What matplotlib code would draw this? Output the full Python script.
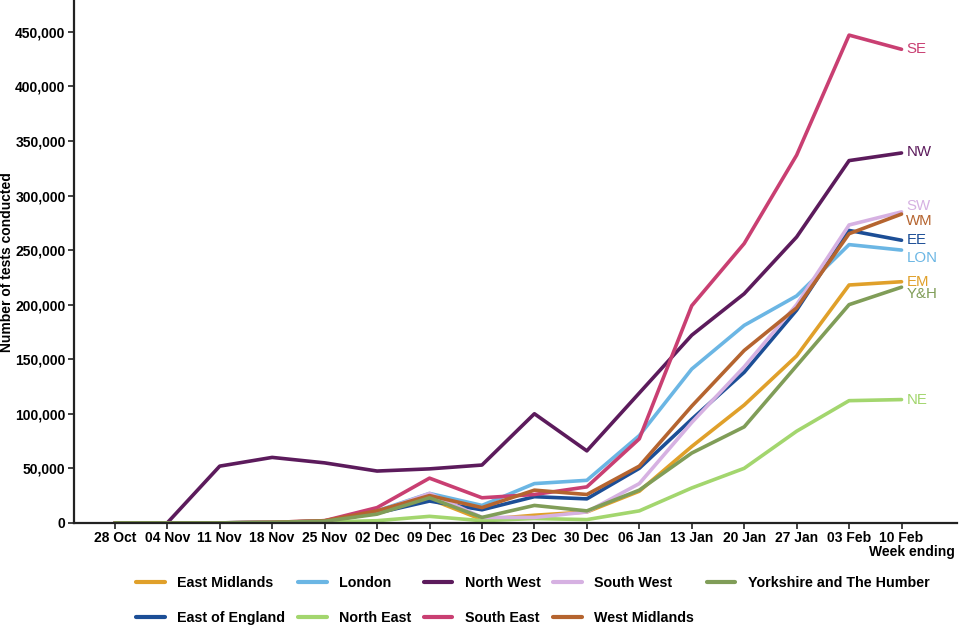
import matplotlib
matplotlib.use('Agg')
import matplotlib.pyplot as plt
from matplotlib.ticker import FuncFormatter

plt.rcParams['font.family'] = ['Liberation Sans', 'DejaVu Sans']

weeks = ['28 Oct', '04 Nov', '11 Nov', '18 Nov', '25 Nov', '02 Dec', '09 Dec', '16 Dec',
         '23 Dec', '30 Dec', '06 Jan', '13 Jan', '20 Jan', '27 Jan', '03 Feb', '10 Feb']

regions = ['East Midlands', 'East of England', 'London', 'North East', 'North West',
           'South East', 'South West', 'West Midlands', 'Yorkshire and The Humber']
short = ['EM', 'EE', 'LON', 'NE', 'NW', 'SE', 'SW', 'WM', 'Y&H']

east_midlands = [0, 0, 0, 500, 1500, 9000, 22000, 3000, 7000, 10000, 29000, 70000, 108000, 153000, 218000, 221000]
east_of_england = [0, 0, 0, 500, 1500, 9000, 20000, 12000, 24000, 22000, 50000, 95000, 138000, 195000, 268000, 259000]
london = [0, 0, 0, 500, 1500, 11000, 27000, 16000, 36000, 39000, 80000, 141000, 181000, 208000, 255000, 250000]
north_east = [0, 0, 0, 300, 800, 2000, 6000, 2000, 4000, 3000, 11000, 32000, 50000, 84000, 112000, 113000]
north_west = [0, 0, 52000, 60000, 55000, 47500, 49500, 53000, 100000, 66000, 119000, 172000, 210000, 262000, 332000, 339000]
south_east = [0, 0, 0, 500, 2000, 14000, 41000, 23000, 26000, 33000, 77000, 199000, 256000, 337000, 447000, 434000]
south_west = [0, 0, 0, 500, 1500, 10000, 27000, 5000, 5000, 10000, 36000, 92000, 143000, 200000, 273000, 285000]
west_midlands = [0, 0, 0, 500, 2000, 11000, 25000, 14000, 30000, 26000, 52000, 107000, 158000, 197000, 265000, 283000]
yorkshire = [0, 0, 0, 500, 1500, 8000, 23000, 5000, 16000, 11000, 30000, 64000, 88000, 144000, 200000, 216000]

series = [east_midlands, east_of_england, london, north_east, north_west,
          south_east, south_west, west_midlands, yorkshire]
colors = ['#E0A02A', '#1C4E96', '#6BB6E4', '#A3D66E', '#5C1B5C',
          '#C93F72', '#D6B1E2', '#B5642F', '#809D58']
# vertical nudge (points) for the end labels so they don't collide
label_dy = [0, 0, -6, 0, 1, 0, 4.5, -5, -5]

fig = plt.figure(figsize=(9.6, 6.4), dpi=100)
ax = fig.add_axes([0.077, 0.183, 0.92, 0.815])

x = list(range(len(weeks)))
for name, abbr, vals, col, dy in zip(regions, short, series, colors, label_dy):
    ax.plot(x, vals, color=col, lw=2.6, label=name, solid_capstyle='round')
    ax.annotate(abbr, (x[-1], vals[-1]), xytext=(3.5, dy), textcoords='offset points',
                color=col, fontsize=10.8, va='center', ha='left')

ax.set_xlim(-0.78, 16.06)
ax.set_ylim(0, 478000)
ax.set_xticks(x)
ax.set_xticklabels(weeks, fontsize=10, fontweight='bold')
ax.set_yticks(range(0, 450001, 50000))
ax.yaxis.set_major_formatter(FuncFormatter(lambda v, p: f'{int(v):,}'))
for lab in ax.get_yticklabels():
    lab.set_fontsize(10)
    lab.set_fontweight('bold')
ax.tick_params(axis='both', length=4, width=1.2, color='#222222', pad=2)
ax.set_ylabel('Number of tests conducted', fontsize=10, fontweight='bold')
ax.yaxis.set_label_coords(-0.068, 0.5)
ax.spines['top'].set_visible(False)
ax.spines['right'].set_visible(False)
for side in ('left', 'bottom'):
    ax.spines[side].set_linewidth(1.6)
    ax.spines[side].set_color('#222222')

fig.text(0.995, 0.137, 'Week ending', ha='right', va='center', fontsize=10, fontweight='bold')

leg = fig.legend(loc='upper left', bbox_to_anchor=(0.136, 0.109), ncol=5, frameon=False,
                 prop={'size': 10.3, 'weight': 'bold'},
                 handlelength=2.0, columnspacing=0.9, handletextpad=0.85,
                 labelspacing=1.45, borderaxespad=0)
for h in leg.get_lines():
    h.set_linewidth(3)

fig.savefig('out.png', dpi=100)
